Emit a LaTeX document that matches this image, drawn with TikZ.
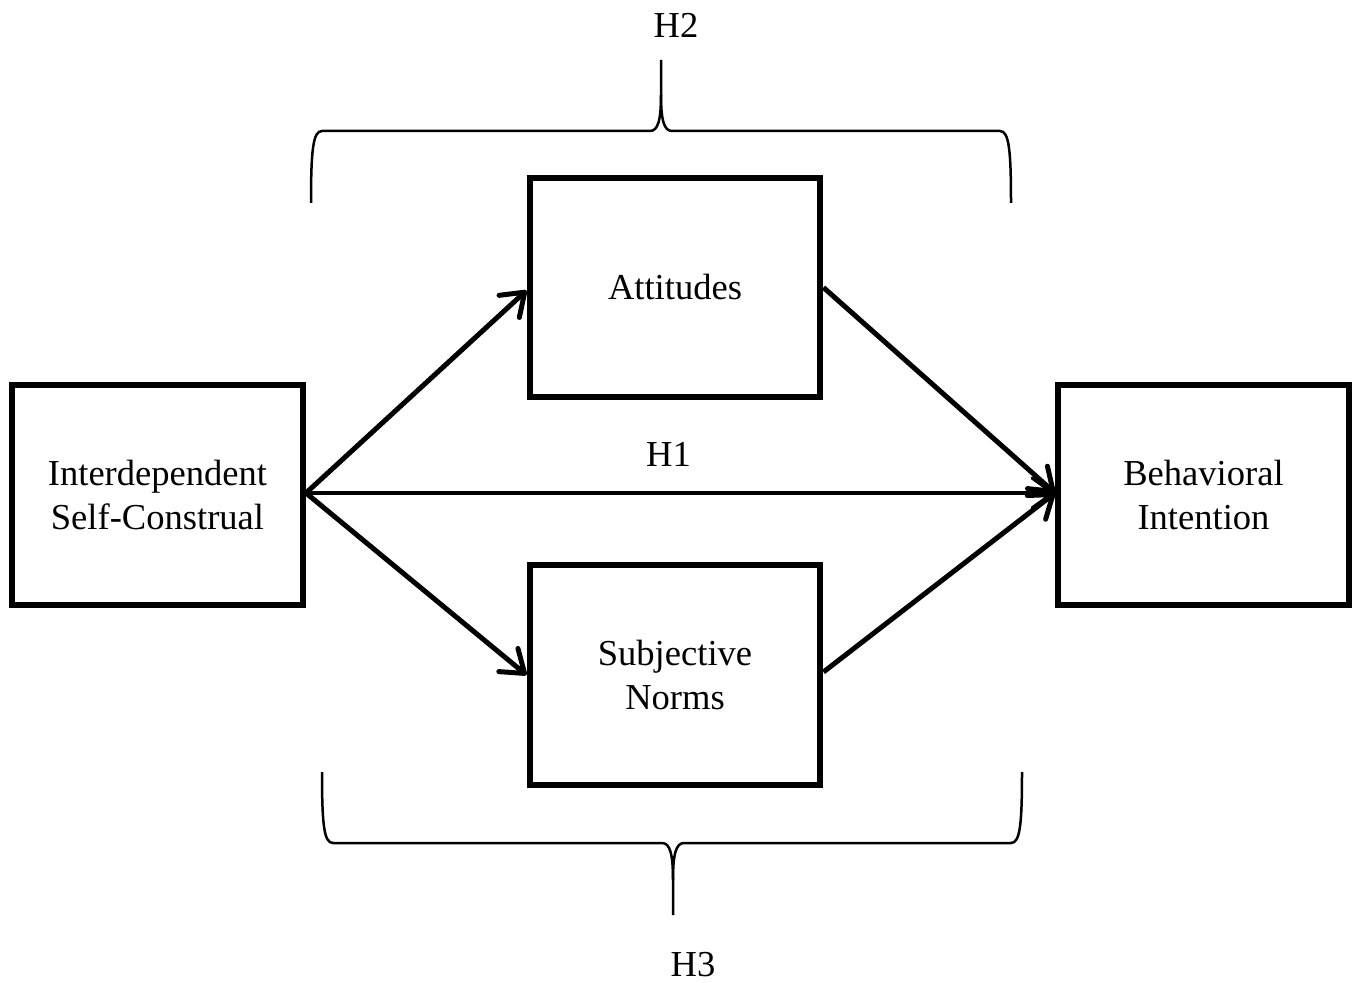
\documentclass[tikz,border=0pt]{standalone}
\usepackage{fontspec}
\setmainfont{Liberation Serif}
\usetikzlibrary{arrows.meta}
\begin{document}
\begin{tikzpicture}[x=0.02cm,y=-0.02cm,
  box/.style={draw,line width=0.12cm,align=center,inner sep=0pt,
    minimum width=5.82cm,minimum height=4.4cm,
    font=\fontsize{20.8}{24.5}\selectfont},
  lbl/.style={font=\fontsize{20.8}{24.5}\selectfont,inner sep=0pt},
  conn/.style={line width=0.1cm,-{Straight Barb[length=0.42cm,width=0.6cm,round]}},
  brace/.style={line width=0.05cm}]
\useasboundingbox (0,0) rectangle (1360,983);
\node[box] (L) at (157.5,495) {Interdependent\\Self-Construal};
\node[box] (A) at (675,287.5) {Attitudes};
\node[box] (S) at (675,675) {Subjective\\Norms};
\node[box] (B) at (1203.5,495) {Behavioral\\Intention};
\draw[conn] ([yshift=0.04cm]L.east) -- ([yshift=-0.06cm]A.west);
\draw[conn] ([yshift=0.04cm]L.east) -- (S.west);
\draw[conn,line width=0.07cm] ([yshift=0.04cm]L.east) -- node[lbl,above=0.5cm,xshift=-0.24cm] (h1) {H1} ([yshift=0.04cm]B.west);
\draw[conn] (A.east) -- ([yshift=0.04cm]B.west);
\draw[conn] ([yshift=0.06cm]S.east) -- ([yshift=0.04cm]B.west);
% top brace
\draw[brace] (311,203) .. controls (311,150) and (313,131) .. (322,131) -- (650,131)
  .. controls (658,131) and (661,120) .. (661,95) -- (661,60);
\draw[brace] (661,95) .. controls (661,120) and (664,131) .. (672,131) -- (1000,131)
  .. controls (1009,131) and (1011,150) .. (1011,203);
% bottom brace
\draw[brace] (322,772) .. controls (322,825) and (324,843) .. (333,843) -- (662,843)
  .. controls (670,843) and (673,854) .. (673,880) -- (673,915);
\draw[brace] (673,880) .. controls (673,854) and (676,843) .. (684,843) -- (1011,843)
  .. controls (1020,843) and (1022,825) .. (1022,772);
\node[lbl] (h2) at (676,25) {H2};
\node[lbl] (h3) at (693,965) {H3};
\end{tikzpicture}
\end{document}
